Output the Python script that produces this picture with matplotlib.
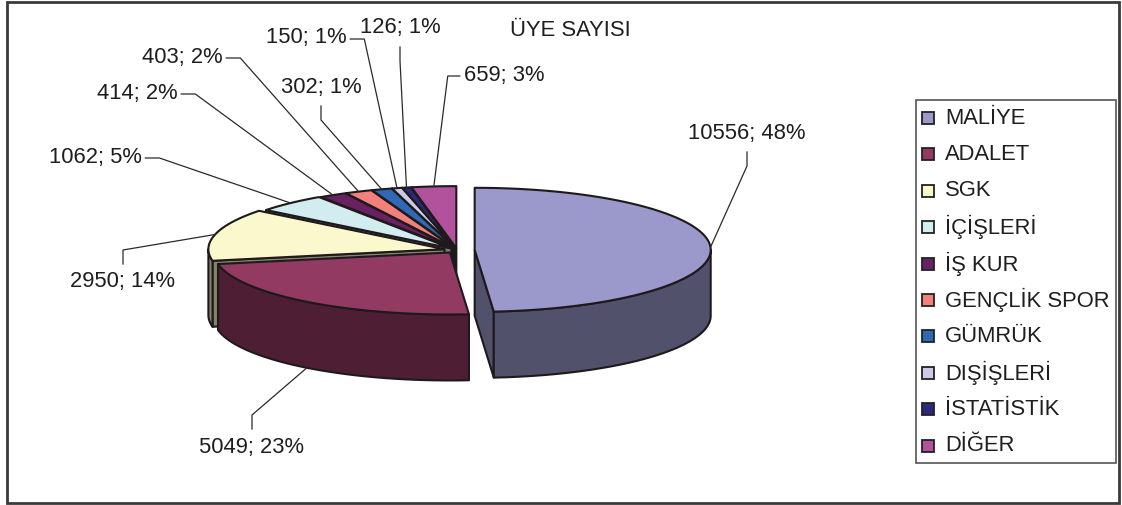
import numpy as np
import matplotlib.pyplot as plt
from matplotlib.patches import Polygon, Rectangle

plt.rcParams['font.family'] = ['Liberation Sans', 'DejaVu Sans']

# data
categories = ['MALİYE', 'ADALET', 'SGK', 'İÇİŞLERİ', 'İŞ KUR', 'GENÇLİK SPOR',
              'GÜMRÜK', 'DIŞİŞLERİ', 'İSTATİSTİK', 'DİĞER']
members = [10556, 5049, 2950, 1062, 414, 403, 302, 150, 126, 659]
percents = [48, 23, 14, 5, 2, 2, 1, 1, 1, 3]
title = 'ÜYE SAYISI'

# style
top_colors = ['#9b98cc', '#933a63', '#fbf8cd', '#d2ecf0', '#6a2163', '#f4807b',
              '#2f68b5', '#cbc9e6', '#2a2a78', '#b2529c']
explode = [0.075, 0.05, 0.055, 0.035, 0.03, 0.03, 0.03, 0.03, 0.03, 0.03]
side_shade = 0.53
edge = '#1e1a1c'
text_color = '#1e1e1e'
font_size = 15.8

# layout (pixels)
W, H = 1122, 505
CX, CY = 457, 250
RX, RY = 236, 62
DEPTH = 66
label_pos = [(747, 133), (252, 447), (123, 282), (95, 157), (137, 93),
             (182, 57), (321, 87), (306, 38), (400, 28), (504, 75)]
stub_dir = ['down', 'up', 'up', 'right', 'right', 'right', 'down', 'right', 'down', 'left']


def proj(u, v, z):
    return CX + RX * np.asarray(u), CY - RY * np.asarray(v) + DEPTH * z


def arc(t0, t1, off, z):
    n = max(2, int(abs(t1 - t0) / np.radians(1)) + 2)
    t = np.linspace(t0, t1, n)
    x, y = proj(off[0] + np.sin(t), off[1] + np.cos(t), z)
    return np.column_stack([x, y])


def shade(c, f):
    rgb = np.array([int(c[i:i + 2], 16) for i in (1, 3, 5)]) / 255.0
    return tuple(rgb * f)


fig = plt.figure(figsize=(W / 100, H / 100), dpi=100)
ax = fig.add_axes([0, 0, 1, 1])
ax.set_xlim(0, W)
ax.set_ylim(H, 0)
ax.axis('off')

vals = np.array(members, dtype=float)
cum = np.concatenate([[0], np.cumsum(vals)]) / vals.sum() * 2 * np.pi

walls = []
tops = []
anchors = []
for i in range(len(vals)):
    t0, t1 = cum[i], cum[i + 1]
    m = (t0 + t1) / 2
    off = (explode[i] * np.sin(m), explode[i] * np.cos(m))
    side = shade(top_colors[i], side_shade)

    # outer wall, front half only
    lo, hi = max(t0, np.pi / 2), min(t1, 3 * np.pi / 2)
    if hi > lo:
        poly = np.vstack([arc(lo, hi, off, 0), arc(hi, lo, off, 1)])
        walls.append((off[1] + np.cos((lo + hi) / 2), poly, side))
    # radial faces that look toward the viewer
    for t, visible in ((t0, np.sin(t0) < -1e-9), (t1, np.sin(t1) > 1e-9)):
        if visible:
            cx0, cy0 = proj(off[0], off[1], 0)
            cx1, cy1 = proj(off[0], off[1], 1)
            rx0, ry0 = proj(off[0] + np.sin(t), off[1] + np.cos(t), 0)
            rx1, ry1 = proj(off[0] + np.sin(t), off[1] + np.cos(t), 1)
            poly = np.array([[cx0, cy0], [rx0, ry0], [rx1, ry1], [cx1, cy1]])
            walls.append((off[1] + 0.5 * np.cos(t), poly, side))
    cx0, cy0 = proj(off[0], off[1], 0)
    tops.append((np.vstack([[cx0, cy0], arc(t0, t1, off, 0)]), top_colors[i]))

    z = 1 if np.cos(m) < -0.5 else 0
    ax_, ay_ = proj(off[0] + np.sin(m), off[1] + np.cos(m), z)
    anchors.append((float(ax_), float(ay_)))

for _, poly, col in sorted(walls, key=lambda w: -w[0]):
    ax.add_patch(Polygon(poly, closed=True, fc=col, ec=edge, lw=1.5, joinstyle='round'))
for poly, col in tops:
    ax.add_patch(Polygon(poly, closed=True, fc=col, ec=edge, lw=1.5, joinstyle='round'))

# data labels with leader lines
texts = []
for i, (x, y) in enumerate(label_pos):
    t = ax.text(x, y, f'{members[i]}; {percents[i]}%', ha='center', va='center',
                fontsize=font_size, color=text_color)
    texts.append(t)

fig.canvas.draw()
renderer = fig.canvas.get_renderer()
inv = ax.transData.inverted()
for i, t in enumerate(texts):
    bb = t.get_window_extent(renderer).transformed(inv)
    x, y = label_pos[i]
    d = stub_dir[i]
    if d == 'right':
        p0, p1 = (bb.x1 + 4, y + 1), (bb.x1 + 18, y + 1)
    elif d == 'left':
        p0, p1 = (bb.x0 - 4, y + 1), (bb.x0 - 16, y + 1)
    elif d == 'down':
        p0, p1 = (x, y + 19), (x, y + 33)
    else:
        p0, p1 = (x, y - 18), (x, y - 32)
    xs = [p0[0], p1[0], anchors[i][0]]
    ys = [p0[1], p1[1], anchors[i][1]]
    ax.plot(xs, ys, color='#2a2a2a', lw=0.9, solid_joinstyle='miter')

ax.text(570, 30, title, ha='center', va='center', fontsize=font_size, color=text_color)

# legend
ax.add_patch(Rectangle((916, 100), 200, 363, fc='white', ec='#555555', lw=1.2))
for i, name in enumerate(categories):
    y = 118 + i * 36.4
    ax.add_patch(Rectangle((922, y - 6), 12, 12, fc=top_colors[i], ec='#222222', lw=1.3))
    ax.text(945, y, name, ha='left', va='center', fontsize=font_size, color=text_color)

# chart frame
ax.add_patch(Rectangle((7, 2), 1112, 501, fill=False, ec='#3a3a3a', lw=2))

fig.savefig('out.png', dpi=100)
